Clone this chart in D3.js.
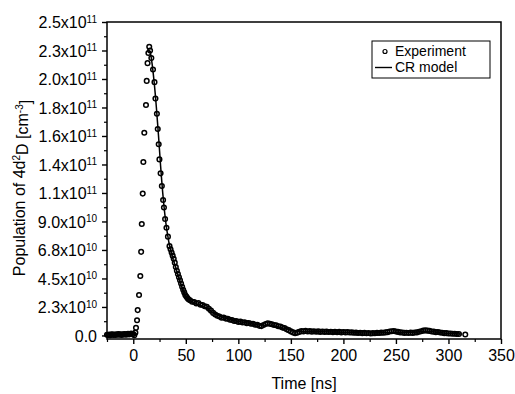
<!DOCTYPE html>
<html>
<head>
<meta charset="utf-8">
<script src="https://cdn.jsdelivr.net/npm/d3@7"></script>
<style>
  body { margin: 0; background: #fff; }
  text { font-family: "Liberation Sans", Arial, sans-serif; fill: #000; }
</style>
</head>
<body>
<div class="chart"></div>
<script>
// all populations in units of 1e10 cm^-3, time in ns

// experiment, before the pulse
var preTrigger = [[-25,0.06],[-24,0.03],[-23,0.08],[-22,0.02],[-21,0.07],[-20,0.10],[-19,0.04],[-18,0.08],
  [-17,0.03],[-16,0.09],[-15,0.05],[-14,0.11],[-13,0.06],[-12,0.09],[-11,0.04],[-10,0.10],[-9,0.07],
  [-8,0.12],[-7,0.05],[-6,0.10],[-5,0.13],[-4,0.08],[-3,0.12],[-2,0.15],[-1,0.10],[0,0.12]];

// experiment, rising edge
var rise = [[1.0,0.02],[2.0,0.22],[2.6,0.6],[3.6,1.2],[4.2,2.0],[5.5,3.2],[6.7,4.7],[7.5,6.6],[8.1,8.8],
  [9.0,11.2],[9.6,13.7],[10.5,16.0],[12.1,18.2],[12.8,20.1],[13.6,21.5],[14.4,22.3],[15.2,22.8]];

// experiment, fast decay
var decay = [[16.0,22.5],[17.2,21.9],[18.8,21.0],[20.2,20.0],[21.1,18.7],[22.5,17.5],[23.3,16.3],[24.2,15.1],
  [24.9,13.9],[26.0,12.8],[27.2,11.8],[28.4,10.7],[29.2,10.1],[30.3,9.2],[31.6,8.5],[33.0,7.8],[34.5,7.05],
  [35.5,6.8],[36.5,6.55],[37.5,6.3],[38.5,6.05],[39.5,5.75],[40.5,5.4],[41.5,5.1],[42.5,4.85],[43.5,4.6],
  [44.5,4.35],[45.5,4.1],[46.5,3.85],[47.5,3.6],[48.5,3.4],[49.5,3.2],[50.5,3.08],[51.5,2.95],[52.5,2.85]];

// experiment, slow tail
var tail = [[54,2.78],[56,2.66],[58,2.64],[60,2.52],[62,2.55],[64,2.42],[66,2.40],[68,2.30],[70,2.26],
  [72,2.10],[74,1.96],[76,1.78],[78,1.66],[80,1.55],[82,1.50],[84,1.40],[86,1.42],[88,1.33],[90,1.32],
  [92,1.24],[94,1.22],[96,1.14],[98,1.14],[100,1.07],[102,1.09],[104,1.02],[106,1.04],[108,0.97],
  [110,0.98],[112,0.92],[114,0.93],[116,0.85],[118,0.84],[120,0.76],[122,0.74],[124,0.82],[126,0.90],
  [128,0.96],[130,0.93],[132,0.88],[134,0.82],[136,0.80],[138,0.73],[140,0.70],[142,0.62],[144,0.58],
  [146,0.48],[148,0.42],[150,0.32],[152,0.24],[154,0.18],[156,0.22],[158,0.28],[160,0.34],[162,0.32],
  [164,0.36],[166,0.31],[168,0.34],[170,0.30],[172,0.33],[174,0.29],[176,0.32],[178,0.28],[180,0.31],
  [182,0.28],[184,0.30],[186,0.27],[188,0.29],[190,0.26],[192,0.29],[194,0.25],[196,0.28],[198,0.24],
  [200,0.27],[202,0.24],[204,0.26],[206,0.23],[208,0.24],[210,0.21],[212,0.22],[214,0.19],[216,0.21],
  [218,0.18],[220,0.20],[222,0.17],[224,0.19],[226,0.16],[228,0.18],[230,0.17],[232,0.20],[234,0.19],
  [236,0.22],[238,0.21],[240,0.24],[242,0.26],[244,0.31],[246,0.33],[248,0.35],[250,0.31],[252,0.28],
  [254,0.24],[256,0.23],[258,0.20],[260,0.21],[262,0.19],[264,0.22],[266,0.20],[268,0.23],[270,0.24],
  [272,0.29],[274,0.33],[276,0.38],[278,0.40],[280,0.38],[282,0.36],[284,0.31],[286,0.30],[288,0.26],
  [290,0.27],[292,0.23],[294,0.21],[296,0.18],[298,0.18],[300,0.15],[302,0.16],[304,0.13],[306,0.14],
  [308,0.11],[310,0.12],[316,0.07]];

// collisional-radiative model curve
var crModel = [[15.0,22.5],[16,22.4],[17,22.0],[18,21.4],[19,20.7],[20,19.9],[21,19.0],[22,18.0],[23,16.9],
  [24,15.8],[25,14.6],[26,13.4],[27,12.3],[28,11.3],[29,10.4],[30,9.6],[31,8.9],[32,8.3],[33,7.8],[34,7.3],
  [36,6.6],[38,6.0],[40,5.5],[42,4.9],[44,4.4],[46,3.9],[48,3.45],[50,3.1],[52,2.85],[55,2.7],[60,2.5],
  [65,2.35],[70,2.15],[75,1.85],[80,1.6],[85,1.42],[90,1.3],[100,1.1],[110,0.96],[120,0.82],[130,0.78],
  [140,0.65],[150,0.42],[160,0.32],[180,0.3],[200,0.26],[220,0.2],[240,0.22],[260,0.21],[280,0.33],
  [300,0.16],[312,0.12]];

var xTickValues = [0, 50, 100, 150, 200, 250, 300, 350];
var xMinorValues = [-25, 25, 75, 125, 175, 225, 275, 325];
var yTickValues = [0, 2.25, 4.5, 6.75, 9, 11.25, 13.5, 15.75, 18, 20.25, 22.5, 24.75];
var yTickMantissa = ["0.0", "2.3x10", "4.5x10", "6.8x10", "9.0x10", "1.1x10", "1.4x10", "1.6x10", "1.8x10", "2.0x10", "2.3x10", "2.5x10"];
var yTickExponent = ["", "10", "10", "10", "10", "11", "11", "11", "11", "11", "11", "11"];
var legendLabels = ["Experiment", "CR model"];

var width = 515, height = 394;
var plot = {left: 107, right: 501, top: 22, bottom: 339};

var svg = d3.select(".chart").append("svg")
  .attr("width", width)
  .attr("height", height);

var x = d3.scaleLinear().domain([-25, 350]).range([plot.left, plot.right]);
var y = d3.scaleLinear().domain([-0.28, 24.75]).range([plot.bottom, plot.top]);

// minor ticks
svg.append("g")
  .attr("transform", "translate(0," + plot.bottom + ")")
  .call(d3.axisBottom(x).tickValues(xMinorValues).tickSize(3).tickFormat(""))
  .call(function(g){ g.select(".domain").remove(); })
  .selectAll("line").attr("stroke-width", 1.2);

var yMinor = yTickValues.slice(0, -1).map(function(v){ return v + 1.125; });
svg.append("g")
  .attr("transform", "translate(" + plot.left + ",0)")
  .call(d3.axisLeft(y).tickValues(yMinor).tickSize(3).tickFormat(""))
  .call(function(g){ g.select(".domain").remove(); })
  .selectAll("line").attr("stroke-width", 1.2);

// x axis
var xAxis = svg.append("g")
  .attr("transform", "translate(0," + plot.bottom + ")")
  .call(d3.axisBottom(x).tickValues(xTickValues).tickSize(5).tickPadding(6).tickFormat(d3.format("d")))
  .attr("font-size", 16)
  .attr("font-family", "Liberation Sans, Arial, sans-serif");
xAxis.select(".domain").remove();
xAxis.selectAll("line").attr("stroke-width", 1.4);

// y axis with superscript exponents
var yAxis = svg.append("g")
  .attr("transform", "translate(" + plot.left + ",0)")
  .call(d3.axisLeft(y).tickValues(yTickValues).tickSize(5).tickPadding(5).tickFormat(""))
  .attr("font-size", 16)
  .attr("font-family", "Liberation Sans, Arial, sans-serif");
yAxis.select(".domain").remove();
yAxis.selectAll("line").attr("stroke-width", 1.4);
yAxis.selectAll(".tick text").each(function(d, i){
  var t = d3.select(this).attr("dy", "0.36em");
  t.append("tspan").text(yTickMantissa[i]);
  if (yTickExponent[i]) {
    t.append("tspan").attr("dy", "-0.55em").attr("font-size", 10).text(yTickExponent[i]);
  }
});

// frame
svg.append("rect")
  .attr("x", plot.left).attr("y", plot.top)
  .attr("width", plot.right - plot.left).attr("height", plot.bottom - plot.top)
  .attr("fill", "none").attr("stroke", "#000").attr("stroke-width", 1.5);

// model line
var line = d3.line().x(function(d){ return x(d[0]); }).y(function(d){ return y(d[1]); });
svg.append("path")
  .datum(crModel)
  .attr("d", line)
  .attr("fill", "none").attr("stroke", "#000").attr("stroke-width", 1.5);

// experiment circles
var experiment = preTrigger.concat(rise, decay, tail);
svg.append("g").selectAll("circle")
  .data(experiment)
  .enter().append("circle")
  .attr("cx", function(d){ return x(d[0]); })
  .attr("cy", function(d){ return y(d[1]); })
  .attr("r", 2.3)
  .attr("fill", "none")
  .attr("stroke", "#000")
  .attr("stroke-width", 1.5);

// axis titles
svg.append("text")
  .attr("x", (plot.left + plot.right) / 2).attr("y", 389)
  .attr("text-anchor", "middle").attr("font-size", 16)
  .text("Time [ns]");

var yTitle = svg.append("text")
  .attr("transform", "translate(25,188) rotate(-90)")
  .attr("text-anchor", "middle").attr("font-size", 16);
yTitle.append("tspan").text("Population of 4d");
yTitle.append("tspan").attr("dy", "-0.5em").attr("font-size", 10).text("2");
yTitle.append("tspan").attr("dy", "0.5em").text("D [cm");
yTitle.append("tspan").attr("dy", "-0.5em").attr("font-size", 10).text("-3");
yTitle.append("tspan").attr("dy", "0.5em").text("]");

// legend
var legend = svg.append("g");
legend.append("rect")
  .attr("x", 372).attr("y", 41).attr("width", 118).attr("height", 37)
  .attr("fill", "#fff").attr("stroke", "#000").attr("stroke-width", 1);
legend.append("circle")
  .attr("cx", 385).attr("cy", 51.5).attr("r", 2)
  .attr("fill", "none").attr("stroke", "#000").attr("stroke-width", 1.2);
legend.append("line")
  .attr("x1", 375).attr("x2", 392).attr("y1", 67.5).attr("y2", 67.5)
  .attr("stroke", "#000").attr("stroke-width", 1.4);
legend.selectAll("text.lab")
  .data(legendLabels)
  .enter().append("text")
  .attr("class", "lab")
  .attr("x", 395)
  .attr("y", function(d, i){ return 56 + i * 16; })
  .attr("font-size", 14)
  .text(function(d){ return d; });
</script>
</body>
</html>
